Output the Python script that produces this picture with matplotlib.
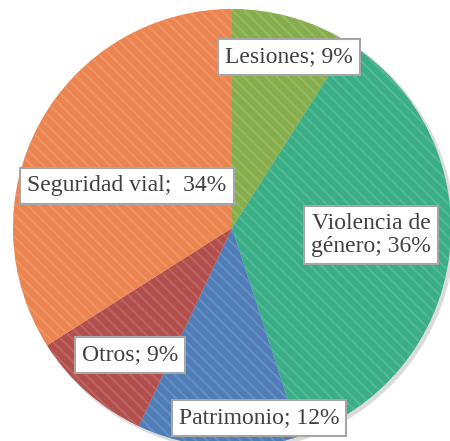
import matplotlib
matplotlib.use("Agg")
import matplotlib.pyplot as plt
import matplotlib.colors as mcolors
import numpy as np

categories = ["Lesiones", "Violencia de\ngénero", "Patrimonio", "Otros", "Seguridad vial"]
values = [9, 36, 12, 9, 34]
colors = ["#86AE4C", "#3AAE86", "#4F7DB8", "#B24F4C", "#EC8450"]
label_text = ["Lesiones; 9%", "Violencia de\ngénero; 36%", "Patrimonio; 12%", "Otros; 9%", "Seguridad vial;  34%"]

plt.rcParams["hatch.linewidth"] = 1.6

fig = plt.figure(figsize=(4.5, 4.41), dpi=100)
ax = fig.add_axes([0, 0, 1, 1])

# subtle shadow
shadow = plt.Circle((0.012, -0.012), 1.005, color="#9a9a9a", alpha=0.35, zorder=0, lw=0)
ax.add_patch(shadow)

wedges, _ = ax.pie(values, colors=colors, startangle=90, counterclock=False,
                   radius=1.0, center=(0, 0), wedgeprops=dict(linewidth=0))

for w, c in zip(wedges, colors):
    rgb = np.array(mcolors.to_rgb(c))
    light = rgb + (1 - rgb) * 0.12
    w.set_hatch("\\\\\\")
    w.set_edgecolor(tuple(light))
    w.set_linewidth(0)

# label positions in pixel coordinates (from top-left) converted to data
S = 219.0
cx, cy = 232.0, 228.0
def to_data(px, py):
    return (px - cx) / S, (cy - py) / S

label_pos_px = [(289, 57), (371, 235), (259, 418), (130, 355), (127, 186)]
for txt, (px, py) in zip(label_text, label_pos_px):
    x, y = to_data(px, py)
    ax.text(x, y, txt, ha="center", va="center", fontsize=17,
            family=["Liberation Serif", "DejaVu Serif"], color="#404040",
            linespacing=1.1,
            bbox=dict(boxstyle="square,pad=0.3", fc="white", ec="#A6A6A6", lw=1.5),
            zorder=5)

ax.set_xlim(-cx / S, (450 - cx) / S)
ax.set_ylim(-(441 - cy) / S, cy / S)
ax.set_aspect("auto")
ax.axis("off")

fig.savefig("out.png", dpi=100)
